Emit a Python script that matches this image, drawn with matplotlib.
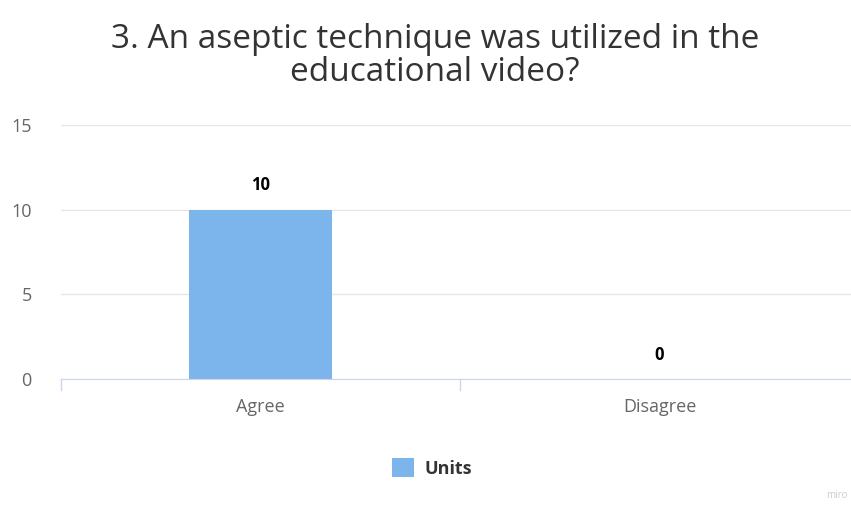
import matplotlib.pyplot as plt

categories = ["Agree", "Disagree"]
units = [10, 0]
y_ticks = [0, 5, 10, 15]

plt.rcParams['font.family'] = ['Open Sans', 'DejaVu Sans']

fig = plt.figure(figsize=(8.51, 5.07), dpi=100)
ax = fig.add_axes([61 / 851, 1 - 379 / 507, 798 / 851, 254 / 507])

bar_color = '#7cb5ec'
x = list(range(len(categories)))
ax.bar(x, units, width=0.36, color=bar_color, zorder=2, label='Units')

for xi, v in zip(x, units):
    ax.text(xi, v + 0.9, str(v), ha='center', va='bottom', fontsize=12,
            fontweight='bold', color='#000000')

ax.set_xlim(-0.5, len(categories) - 0.5)
ax.set_ylim(0, 15)
ax.set_yticks(y_ticks)
ax.set_yticklabels([str(t) for t in y_ticks], fontsize=13, color='#666666')

ax.set_xticks(x)
ax.set_xticklabels(categories, fontsize=13, color='#666666')
ax.tick_params(axis='x', length=0, pad=14)
ax.tick_params(axis='y', length=0, pad=21)
for b in [-0.5, 0.5, 1.5]:
    ax.plot([b, b], [0, -0.65], color='#ccd6eb', lw=1, clip_on=False, zorder=3)

ax.grid(axis='y', color='#e6e6e6', lw=1, zorder=0)
for s in ['top', 'right', 'left']:
    ax.spines[s].set_visible(False)
ax.spines['bottom'].set_color('#ccd6eb')
ax.spines['bottom'].set_zorder(3)

fig.text(435 / 851, 1 - 56 / 507,
         "3. An aseptic technique was utilized in the\neducational video?",
         ha='center', va='center', fontsize=24, color='#333333', linespacing=1.02)

fig.legend(loc='center', bbox_to_anchor=(432 / 851, 1 - 468 / 507), frameon=False,
           handlelength=1.2, handleheight=1.2, handletextpad=0.6,
           prop={'size': 13, 'weight': 'bold'}, labelcolor='#333333')

fig.text(848 / 851, 1 - 496 / 507, "miro", ha='right', va='center', fontsize=7,
         color='#cccccc')

fig.savefig('out.png', dpi=100)
